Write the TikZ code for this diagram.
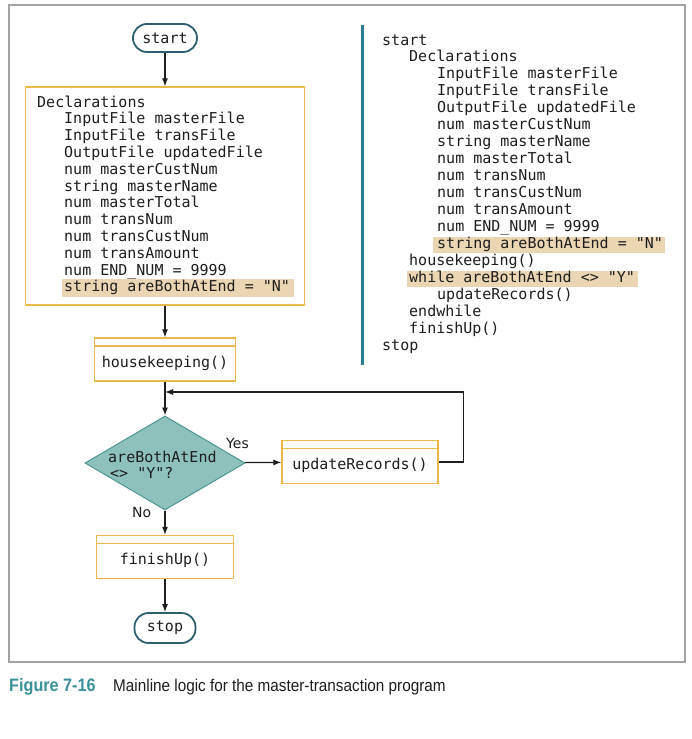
\documentclass[tikz,border=0pt]{standalone}
\usepackage{fontspec}
\setmainfont{DejaVu Sans}
\newfontfamily\codefont{DejaVu Sans Mono}
\newfontfamily\capfont[FakeStretch=0.9]{Liberation Sans}
\usetikzlibrary{shapes.geometric,arrows.meta,positioning}

\definecolor{boxgold}{HTML}{E8B84B}
\definecolor{hilite}{HTML}{EBD5B3}
\definecolor{decfill}{HTML}{8EC1BC}
\definecolor{decline}{HTML}{4E9690}
\definecolor{termline}{HTML}{2F5F70}
\definecolor{barblue}{HTML}{2B7D96}
\definecolor{figteal}{HTML}{3A9199}
\definecolor{framegray}{HTML}{A3A3A3}
\definecolor{ink}{HTML}{1E1E1E}

\newcommand{\codesize}{\codefont\fontsize{15}{17}\selectfont}

\begin{document}
\begin{tikzpicture}[
				x=1pt, y=-1pt,
				terminal/.style={rectangle, rounded corners=14pt, draw=termline, line width=1.8pt, minimum width=64pt, minimum height=28pt, font=\codesize, text=ink},
				module/.style={rectangle, draw=boxgold, line width=1.3pt, inner ysep=4pt, text height=25pt, text depth=10pt, font=\codesize, text=ink,
					path picture={\draw[boxgold, line width=1.3pt] ([yshift=-8pt]path picture bounding box.north west) -- ([yshift=-8pt]path picture bounding box.north east);}},
				decision/.style={diamond, fill=decfill, draw=decline, line width=1pt, minimum width=160pt, minimum height=94pt, inner sep=0pt},
				codeline/.style={anchor=base west, font=\codesize, inner sep=0pt, text=ink},
				lbl/.style={anchor=base west, inner sep=0pt, font=\fontsize{14}{16}\selectfont, text=ink},
				flow/.style={draw=ink, line width=1.2pt, -{Latex[length=8pt,width=6pt]}}
				]
				\fill[white] (0,0) rectangle (691,739);
				\useasboundingbox (0,0) rectangle (691,739);
				\draw[framegray, line width=1.8pt] (9,5) rectangle (685,662);
				
				% flowchart
				\node[terminal] (start) at (165,38) {start};
				\node[draw=boxgold, line width=1.3pt, minimum width=279pt, minimum height=218pt] (decl) at (165,196) {};
				\fill[hilite] (62,279) rectangle (294,297);
				\foreach \dx/\txt [count=\i from 0] in {37/Declarations, 64/InputFile masterFile, 64/InputFile transFile,
						64/OutputFile updatedFile, 64/num masterCustNum, 64/string masterName, 64/num masterTotal,
						64/num transNum, 64/num transCustNum, 64/num transAmount, 64/num END\_NUM = 9999,
						64/string areBothAtEnd = "N"}
					\node[codeline] (decl-\i) at (\dx,{107+16.8*\i}) {\txt};
				
				\node[module, minimum width=141pt] (hk) at (165,359.5) {housekeeping()};
				\node[decision] (test) at (165,463) {};
				\node[codeline] (test-a) at (108,462) {areBothAtEnd};
				\node[codeline] (test-b) at (110,478) {<> "Y"?};
				\node[module, minimum width=156pt] (upd) at (360,462) {updateRecords()};
				\node[module, minimum width=137pt] (fin) at (165,557) {finishUp()};
				\node[terminal, minimum width=61pt, minimum height=30pt] (stop) at (165,628) {stop};
				\coordinate (loopjoin) at (165,392);
				
				\node[lbl] (yes) at (226,448) {Yes};
				\node[lbl] (no) at (132,517) {No};
				
				\draw[flow] (start) -- (decl);
				\draw[flow] (decl) -- (hk);
				\draw[flow] (hk) -- (test);
				\draw[flow] (test) -- (upd);
				\draw[flow] (upd.east) -- ++(25,0) |- (loopjoin);
				\draw[flow] (test) -- (fin);
				\draw[flow] (fin) -- (stop);
				
				% pseudocode
				\draw[barblue, line width=3pt] (362,25) -- (362,365);
				\fill[hilite] (433,236.5) rectangle (665,253);
				\fill[hilite] (407,270.5) rectangle (638,287);
				\foreach \dx/\txt [count=\i from 0] in {382/start, 409/Declarations, 437/InputFile masterFile,
						437/InputFile transFile, 437/OutputFile updatedFile, 437/num masterCustNum,
						437/string masterName, 437/num masterTotal, 437/num transNum, 437/num transCustNum,
						437/num transAmount, 437/num END\_NUM = 9999, 437/string areBothAtEnd = "N",
						409/housekeeping(), 409/while areBothAtEnd <> "Y", 437/updateRecords(),
						409/endwhile, 409/finishUp(), 382/stop}
					\node[codeline] (code-\i) at (\dx,{45+16.95*\i}) {\txt};
				
				% caption
				\node[anchor=base west, inner sep=0pt, font=\capfont\bfseries\fontsize{18}{20}\selectfont, text=figteal] (fignum) at (9,691) {Figure 7-16};
				\node[anchor=base west, inner sep=0pt, font=\capfont\fontsize{17}{20}\selectfont, text=ink] (figcap) at (113,691) {Mainline logic for the master-transaction program};
			\end{tikzpicture}
\end{document}
